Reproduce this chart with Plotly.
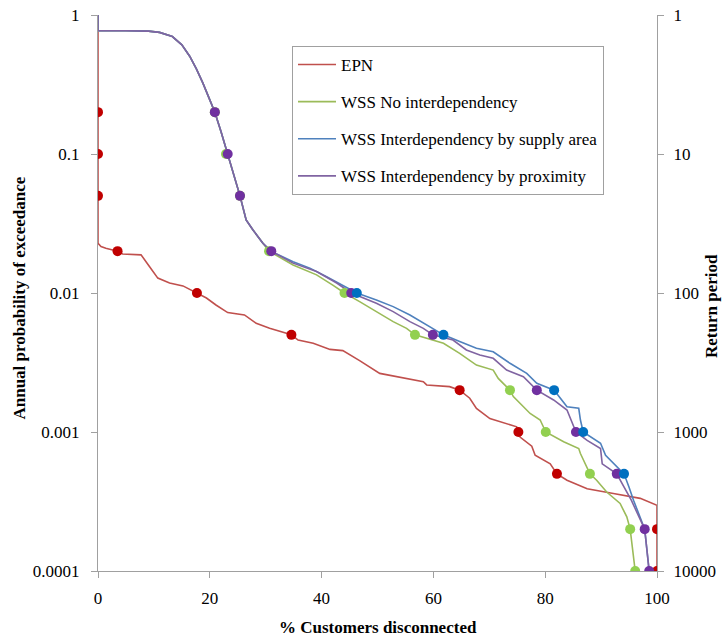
import plotly.graph_objects as go

# ---------------- data ----------------
prob_ticks = [1, 0.1, 0.01, 0.001, 0.0001]
prob_labels = ["1", "0.1", "0.01", "0.001", "0.0001"]
rp_ticks = [1, 10, 100, 1000, 10000]
rp_labels = ["1", "10", "100", "1000", "10000"]
x_ticks = [0, 20, 40, 60, 80, 100]

series_names = ["EPN", "WSS No interdependency",
                "WSS Interdependency by supply area",
                "WSS Interdependency by proximity"]

epn_x = [0, 0, 0.54, 1.4, 3.5, 4.4, 7.7, 8.3, 9.2, 10.7, 12.8, 15.2, 17.7, 19.4, 21.1,
         23.2, 26.2, 28.3, 30.7, 34.6, 35.8, 38.5, 41.5, 43.8, 46.8, 50.4, 58.2, 58.8,
         62.9, 64.7, 66.5, 67.7, 70.1, 73.1, 74.9, 75.2, 75.5, 77.6, 78.2, 80.9, 81.5,
         82.1, 83.9, 87.5, 92.2, 97.0, 100, 100]
epn_y = [0.76, 0.0228, 0.0216, 0.021, 0.020, 0.0191, 0.0188, 0.0173, 0.0155, 0.0128,
         0.0118, 0.01125, 0.0100, 0.0092, 0.0082, 0.00723, 0.00695, 0.00605, 0.00557,
         0.0050, 0.00459, 0.00435, 0.00393, 0.00385, 0.00326, 0.00264, 0.0023, 0.00218,
         0.00212, 0.0020, 0.00175, 0.00148, 0.00125, 0.00115, 0.00109, 0.0010, 0.00092,
         0.00079, 0.00068, 0.00059, 0.00054, 0.0005, 0.00045, 0.00039, 0.000361,
         0.000333, 0.000297, 0.0001]

wss_top_x = [0, 0, 5, 9, 11, 13.3, 15, 16.4, 17.6, 18.75, 20, 20.9, 22, 23.2, 24.3,
             25.4, 26.5, 27.7, 29.5]
wss_top_y = [1, 0.77, 0.77, 0.765, 0.75, 0.70, 0.61, 0.505, 0.41, 0.325, 0.245, 0.2,
             0.145, 0.1, 0.072, 0.05, 0.0336, 0.0285, 0.0228]

green_x = [30.6, 34.9, 39.1, 42.0, 44.1, 46.8, 49.8, 52.8, 55.2, 56.7, 61.8, 64.7, 67.7,
           70.7, 71.6, 73.7, 74.3, 76.1, 77.3, 79.1, 80.1, 83.3, 86.0, 86.3, 87.2, 88.0,
           89.2, 91.0, 93.4, 94.6, 95.2, 96.1]
green_y = [0.02, 0.0159, 0.0135, 0.0114, 0.01, 0.00867, 0.00735, 0.00622, 0.00557, 0.005,
           0.00435, 0.00368, 0.00303, 0.00279, 0.00243, 0.002, 0.0018, 0.00152, 0.00136,
           0.00122, 0.001, 0.00085, 0.00076, 0.0007, 0.00059, 0.0005, 0.00045, 0.00037,
           0.000306, 0.000245, 0.0002, 0.0001]

blue_x = [30.9, 34.9, 37.9, 40.9, 43.8, 46.3, 49.8, 52.8, 55.8, 58.8, 61.8, 64.7, 67.7,
          70.7, 73.7, 76.7, 78.5, 81.6, 83.9, 86.0, 86.3, 86.8, 89.9, 90.8, 92.8, 94.1,
          95.0, 95.8, 97.8, 98.6]
blue_y = [0.02, 0.0168, 0.0151, 0.0131, 0.01125, 0.01, 0.0089, 0.00798, 0.00695, 0.00589,
          0.005, 0.00447, 0.004, 0.00378, 0.00312, 0.00264, 0.00224, 0.002, 0.00152,
          0.00148, 0.00122, 0.001, 0.00083, 0.00068, 0.00056, 0.0005, 0.0004, 0.000323,
          0.0002, 0.0001]

purple_x = [31.0, 34.9, 39.1, 42.7, 45.3, 49.8, 52.8, 55.8, 58.2, 59.9, 63.5, 65.9, 68.3,
            70.7, 73.1, 76.1, 78.5, 81.5, 83.9, 85.5, 87.5, 89.9, 90.2, 92.8, 95.4, 97.8,
            98.6]
purple_y = [0.02, 0.0164, 0.01426, 0.0118, 0.01, 0.00844, 0.00735, 0.00622, 0.00557,
            0.005, 0.00459, 0.00389, 0.00358, 0.00339, 0.00279, 0.0025, 0.002, 0.0017,
            0.00144, 0.001, 0.00087, 0.00076, 0.00059, 0.0005, 0.000323, 0.0002, 0.0001]

# return-period marker points (annual probability levels)
marker_levels = [0.2, 0.1, 0.05, 0.02, 0.01, 0.005, 0.002, 0.001, 0.0005, 0.0002, 0.0001]
epn_mx = [0, 0, 0, 3.5, 17.7, 34.6, 64.7, 75.2, 82.1, 100, 100]
green_mx = [20.9, 22.9, 25.4, 30.6, 44.1, 56.7, 73.7, 80.1, 88.0, 95.2, 96.1]
purple_mx = [20.9, 23.2, 25.4, 31.0, 45.3, 59.9, 78.5, 85.5, 92.8, 97.8, 98.6]
blue_mx = [46.3, 61.8, 81.6, 86.8, 94.1]
blue_levels = [0.01, 0.005, 0.002, 0.001, 0.0005]

line_colors = ["#C0504D", "#9BBB59", "#4F81BD", "#8064A2"]
marker_colors = ["#C00000", "#92D050", "#0070C0", "#7030A0"]

# ---------------- figure ----------------
fig = go.Figure()

line_data = [
    (epn_x, epn_y),
    (wss_top_x + green_x, wss_top_y + green_y),
    (wss_top_x + blue_x, wss_top_y + blue_y),
    (wss_top_x + purple_x, wss_top_y + purple_y),
]
for i, (xs, ys) in enumerate(line_data):
    fig.add_trace(go.Scatter(
        x=xs, y=ys, mode="lines", name=series_names[i],
        line=dict(color=line_colors[i], width=1.6),
        legendgroup=f"g{i}", hoverinfo="skip"))

marker_data = [
    (epn_mx, marker_levels, 0),
    (green_mx, marker_levels, 1),
    (purple_mx, marker_levels, 3),
    (blue_mx, blue_levels, 2),
]
for xs, ys, ci in marker_data:
    fig.add_trace(go.Scatter(
        x=xs, y=ys, mode="markers", showlegend=False,
        marker=dict(color=marker_colors[ci], size=10, line=dict(width=0)),
        hoverinfo="skip"))

# invisible trace to anchor right axis
fig.add_trace(go.Scatter(x=[0] * len(rp_ticks), y=rp_ticks, yaxis="y2", mode="markers",
                         marker=dict(opacity=0), showlegend=False, hoverinfo="skip"))

FAM = "Liberation Serif, Times New Roman, serif"
axis_font = dict(family=FAM, size=17, color="#000000")
axcol = "#A0A0A0"

fig.update_layout(
    width=722, height=639,
    margin=dict(l=98, r=65, t=15, b=68, autoexpand=False),
    paper_bgcolor="white", plot_bgcolor="white",
    font=axis_font,
    showlegend=True,
    legend=dict(
        x=(292 - 98) / 559, y=(571 - 46) / 556, xanchor="left", yanchor="top",
        bgcolor="white", bordercolor=axcol, borderwidth=1,
        font=dict(family=FAM, size=17, color="#000"),
        tracegroupgap=12, itemwidth=38,
    ),
    xaxis=dict(
        range=[0, 100], tickmode="array", tickvals=x_ticks,
        showline=True, linecolor=axcol, linewidth=1,
        ticks="outside", ticklen=6, tickcolor=axcol,
        showgrid=False, zeroline=False, ticklabelstandoff=6,
        tickfont=axis_font, automargin=False,
    ),
    yaxis=dict(
        type="log", range=[-4, 0], tickmode="array",
        tickvals=prob_ticks, ticktext=prob_labels,
        showline=True, linecolor=axcol, linewidth=1,
        ticks="outside", ticklen=6, tickcolor=axcol,
        showgrid=False, zeroline=False, ticklabelstandoff=8,
        tickfont=axis_font, automargin=False,
    ),
    yaxis2=dict(
        type="log", range=[4, 0], overlaying="y", side="right", anchor="x",
        tickmode="array", tickvals=rp_ticks, ticktext=rp_labels,
        showline=True, linecolor=axcol, linewidth=1,
        ticks="outside", ticklen=6, tickcolor=axcol,
        showgrid=False, zeroline=False, ticklabelstandoff=6,
        tickfont=axis_font, automargin=False,
    ),
)

title_font = dict(family=FAM, size=17, color="#000")
fig.add_annotation(text="<b>% Customers disconnected</b>", xref="paper", yref="paper",
                   x=(378 - 98) / 559, y=(571 - 627) / 556, showarrow=False,
                   xanchor="center", yanchor="middle", font=title_font)
fig.add_annotation(text="<b>Annual probability of exceedance</b>", xref="paper", yref="paper",
                   x=(20 - 98) / 559, y=0.49, showarrow=False, textangle=-90,
                   xanchor="center", yanchor="middle", font=title_font)
fig.add_annotation(text="<b>Return period</b>", xref="paper", yref="paper",
                   x=(711 - 98) / 559, y=(571 - 306) / 556, showarrow=False, textangle=-90,
                   xanchor="center", yanchor="middle", font=title_font)

fig.write_html("out.html", config={"displayModeBar": False},
               post_script="document.body.style.margin='0';document.body.style.padding='0';")
